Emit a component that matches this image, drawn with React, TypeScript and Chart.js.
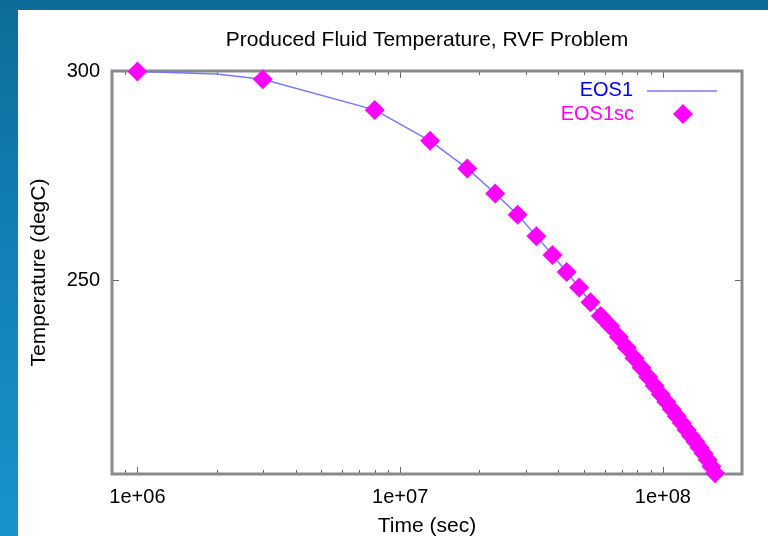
import { useEffect, useRef } from 'react';
import { Chart, registerables } from 'chart.js';

Chart.register(...registerables);

// ---- data ----
const chartTitle = 'Produced Fluid Temperature, RVF Problem';
const xAxisTitle = 'Time (sec)';
const yAxisTitle = 'Temperature (degC)';
const seriesNames = ['EOS1', 'EOS1sc'];

const xTickValues = [1e6, 1e7, 1e8];
const xTickLabels = ['1e+06', '1e+07', '1e+08'];
const yTickValues = [250, 300];
const yTickLabels = ['250', '300'];
const xMin = 8e5;
const xMax = 2e8;
const yMin = 203.6;
const yMax = 300;

// EOS1 (line)
const eos1Times = [
  8e5, 1e6, 2e6, 3e6, 8e6, 1.3e7, 1.8e7, 2.3e7, 2.8e7, 3.3e7, 3.8e7, 4.3e7, 4.8e7,
  5.3e7, 5.8e7, 6.3e7, 6.8e7, 7.3e7, 7.8e7, 8.3e7, 8.8e7, 9.3e7, 9.8e7, 1.03e8,
  1.08e8, 1.13e8, 1.18e8, 1.23e8, 1.28e8, 1.33e8, 1.38e8, 1.43e8, 1.48e8, 1.53e8, 1.58e8,
];
const eos1Temps = [
  300.0, 299.9, 299.3, 298.0, 290.7, 283.3, 276.7, 270.7, 265.6, 260.5, 256.0, 251.9, 248.2,
  244.7, 241.4, 239.0, 236.4, 233.8, 231.3, 229.0, 226.8, 224.7, 222.7, 220.9,
  219.1, 217.4, 215.8, 214.2, 212.7, 211.3, 209.9, 208.5, 207.0, 205.4, 203.8,
];

// EOS1sc (diamonds)
const eos1scTimes = [
  1e6, 3e6, 8e6, 1.3e7, 1.8e7, 2.3e7, 2.8e7, 3.3e7, 3.8e7, 4.3e7, 4.8e7,
  5.3e7, 5.8e7, 6.3e7, 6.8e7, 7.3e7, 7.8e7, 8.3e7, 8.8e7, 9.3e7, 9.8e7, 1.03e8,
  1.08e8, 1.13e8, 1.18e8, 1.23e8, 1.28e8, 1.33e8, 1.38e8, 1.43e8, 1.48e8, 1.53e8, 1.58e8,
];
const eos1scTemps = [
  299.9, 298.0, 290.7, 283.3, 276.7, 270.7, 265.6, 260.5, 256.0, 251.9, 248.2,
  244.7, 241.4, 239.0, 236.4, 233.8, 231.3, 229.0, 226.8, 224.7, 222.7, 220.9,
  219.1, 217.4, 215.8, 214.2, 212.7, 211.3, 209.9, 208.5, 207.0, 205.4, 203.8,
];

// ---- styles ----
const FONT = "'Liberation Sans', Arial, Helvetica, sans-serif";
const LINE_COLOR = '#7878ff';
const LEGEND_LINE_TEXT = '#0000ff';
const MAGENTA = '#ff00ff';
const FRAME_COLOR = '#8a8a8a';
const CANVAS_W = 750;
const CANVAS_H = 540;
const POINT_R = 10;

const framePlugin = {
  id: 'gnuFrame',
  beforeDatasetsDraw(chart: any) {
    const { ctx, chartArea: a, scales } = chart;
    const x = scales.x;
    const y = scales.y;
    ctx.save();
    ctx.strokeStyle = '#666';
    ctx.lineWidth = 1;
    ctx.beginPath();
    for (let e = 5; e <= 8; e++) {
      for (let k = 1; k <= 9; k++) {
        const v = k * Math.pow(10, e);
        if (v < xMin || v > xMax) continue;
        const px = Math.round(x.getPixelForValue(v)) + 0.5;
        const len = k === 1 ? 7 : 4;
        ctx.moveTo(px, a.bottom);
        ctx.lineTo(px, a.bottom - len);
        ctx.moveTo(px, a.top);
        ctx.lineTo(px, a.top + len);
      }
    }
    for (const v of yTickValues) {
      const py = Math.round(y.getPixelForValue(v)) + 0.5;
      ctx.moveTo(a.left, py);
      ctx.lineTo(a.left + 7, py);
      ctx.moveTo(a.right, py);
      ctx.lineTo(a.right - 7, py);
    }
    ctx.stroke();
    ctx.strokeStyle = FRAME_COLOR;
    ctx.lineWidth = 3;
    ctx.strokeRect(a.left, a.top, a.right - a.left, a.bottom - a.top);
    ctx.restore();
  },
};

const legendPlugin = {
  id: 'gnuLegend',
  afterDraw(chart: any) {
    const { ctx } = chart;
    ctx.save();
    ctx.font = `20px ${FONT}`;
    ctx.textAlign = 'right';
    ctx.textBaseline = 'middle';
    // EOS1
    ctx.fillStyle = LEGEND_LINE_TEXT;
    ctx.fillText(seriesNames[0], 615, 80);
    ctx.strokeStyle = LINE_COLOR;
    ctx.lineWidth = 1.5;
    ctx.beginPath();
    ctx.moveTo(629, 81);
    ctx.lineTo(699, 81);
    ctx.stroke();
    // EOS1sc
    ctx.fillStyle = MAGENTA;
    ctx.fillText(seriesNames[1], 616, 104);
    const cx = 665;
    const cy = 104;
    const r = POINT_R;
    ctx.beginPath();
    ctx.moveTo(cx - r, cy);
    ctx.lineTo(cx, cy - r);
    ctx.lineTo(cx + r, cy);
    ctx.lineTo(cx, cy + r);
    ctx.closePath();
    ctx.fill();
    ctx.restore();
  },
};

export default function App() {
  const canvasRef = useRef<HTMLCanvasElement>(null);

  useEffect(() => {
    const canvas = canvasRef.current;
    if (!canvas) return;
    const chart = new Chart(canvas, {
      type: 'scatter',
      data: {
        datasets: [
          {
            label: seriesNames[1],
            data: eos1scTimes.map((t, i) => ({ x: t, y: eos1scTemps[i] })),
            showLine: false,
            pointStyle: 'rectRot',
            pointRadius: POINT_R,
            pointHoverRadius: POINT_R,
            backgroundColor: MAGENTA,
            borderColor: MAGENTA,
            borderWidth: 0,
            clip: false,
            order: 0,
          },
          {
            label: seriesNames[0],
            data: eos1Times.map((t, i) => ({ x: t, y: eos1Temps[i] })),
            showLine: true,
            pointRadius: 0,
            pointHoverRadius: 0,
            borderColor: LINE_COLOR,
            backgroundColor: LINE_COLOR,
            borderWidth: 1.5,
            tension: 0,
            order: 1,
          },
        ],
      },
      options: {
        responsive: false,
        animation: false,
        devicePixelRatio: 1,
        layout: { padding: { left: 0, right: 26, top: 0, bottom: 0 } },
        plugins: {
          legend: { display: false },
          tooltip: { enabled: false },
          title: {
            display: true,
            text: chartTitle,
            fullSize: false,
            color: '#000',
            font: { family: FONT, size: 21, weight: 'normal', lineHeight: 1.2 },
            padding: { top: 18, bottom: 17.8 },
          },
        },
        scales: {
          x: {
            type: 'logarithmic',
            position: 'bottom',
            min: xMin,
            max: xMax,
            grid: { display: false, drawTicks: false },
            border: { display: false },
            afterBuildTicks: (s: any) => {
              s.ticks = xTickValues.map((v) => ({ value: v }));
            },
            afterFit: (s: any) => {
              s.height = 76;
            },
            ticks: {
              autoSkip: false,
              maxRotation: 0,
              padding: 11,
              color: '#000',
              font: { family: FONT, size: 20, lineHeight: 1.2 },
              callback: (value: any) => {
                const i = xTickValues.indexOf(Number(value));
                return i >= 0 ? xTickLabels[i] : '';
              },
            },
            title: {
              display: true,
              text: xAxisTitle,
              color: '#000',
              font: { family: FONT, size: 21, lineHeight: 1.2 },
              padding: { top: 0, bottom: 11.4 },
            },
          },
          y: {
            type: 'linear',
            min: yMin,
            max: yMax,
            grid: { display: false, drawTicks: false },
            border: { display: false },
            afterBuildTicks: (s: any) => {
              s.ticks = yTickValues.map((v) => ({ value: v }));
            },
            afterFit: (s: any) => {
              s.width = 94;
            },
            ticks: {
              padding: 12,
              color: '#000',
              font: { family: FONT, size: 20, lineHeight: 1.2 },
              callback: (value: any) => {
                const i = yTickValues.indexOf(Number(value));
                return i >= 0 ? yTickLabels[i] : '';
              },
            },
            title: {
              display: true,
              text: yAxisTitle,
              color: '#000',
              font: { family: FONT, size: 21, lineHeight: 1.2 },
              padding: { top: 8.4, bottom: 0 },
            },
          },
        },
      },
      plugins: [framePlugin, legendPlugin],
    } as any);
    return () => chart.destroy();
  }, []);

  return (
    <div
      style={{
        position: 'fixed',
        left: 0,
        top: 0,
        width: 768,
        height: 536,
        overflow: 'hidden',
        background: 'linear-gradient(180deg, #0c6d99 0%, #1180b5 45%, #1a93cc 100%)',
      }}
    >
      <div
        style={{
          position: 'absolute',
          left: 18,
          top: 10,
          width: 750,
          height: 526,
          background: '#ffffff',
          overflow: 'hidden',
        }}
      >
        <canvas
          ref={canvasRef}
          width={CANVAS_W}
          height={CANVAS_H}
          style={{ display: 'block', width: CANVAS_W, height: CANVAS_H }}
        />
      </div>
    </div>
  );
}
